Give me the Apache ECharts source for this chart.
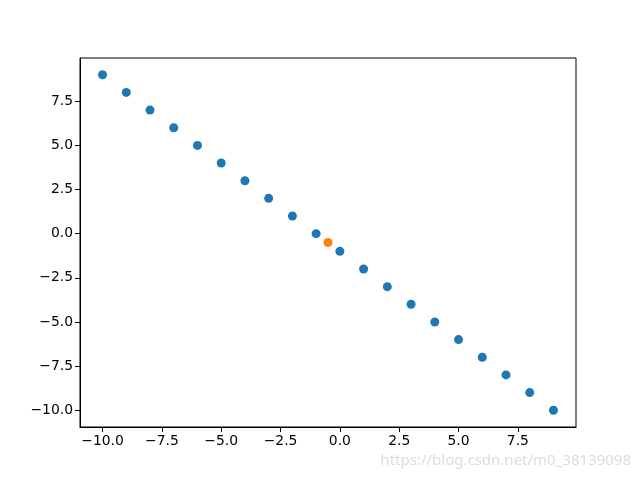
<!DOCTYPE html>
<html><head><meta charset="utf-8">
<script src="https://cdn.jsdelivr.net/npm/echarts@6/dist/echarts.min.js"></script>
<style>html,body{margin:0;padding:0;background:#fff}#c{width:640px;height:480px}</style>
</head><body><div id="c"></div>
<script>
const xs = [-10,-9,-8,-7,-6,-5,-4,-3,-2,-1,0,1,2,3,4,5,6,7,8,9];
const ys = [9,8,7,6,5,4,3,2,1,0,-1,-2,-3,-4,-5,-6,-7,-8,-9,-10];
const extraX = [-0.5];
const extraY = [-0.5];
const xTicks = [-10,-7.5,-5,-2.5,0,2.5,5,7.5];
const yTicks = [-10,-7.5,-5,-2.5,0,2.5,5,7.5];

const fmt = v => (v < 0 ? '\u2212' : '') + Math.abs(v).toFixed(1);
const chart = echarts.init(document.getElementById('c'), null, {renderer:'canvas'});
const axisLine = {show:true, onZero:false, lineStyle:{color:'#000', width:1}};
chart.setOption({
  animation:false,
  backgroundColor:'#fff',
  grid:{left:80, right:64, top:58, bottom:53, show:true, borderColor:'#000', borderWidth:1, containLabel:false},
  xAxis:{type:'value', min:-10.95, max:9.95, axisLine:axisLine, splitLine:{show:false},
    axisTick:{show:true, length:5, lineStyle:{color:'#000'}, customValues:xTicks},
    axisLabel:{color:'#000', fontSize:13.9, fontFamily:'DejaVu Sans', formatter:fmt, margin:7, customValues:xTicks}
  },
  yAxis:{type:'value', min:-10.95, max:9.95, axisLine:axisLine, splitLine:{show:false},
    axisTick:{show:true, length:5, lineStyle:{color:'#000'}, customValues:yTicks},
    axisLabel:{color:'#000', fontSize:13.9, fontFamily:'DejaVu Sans', formatter:fmt, margin:7, customValues:yTicks}
  },
  series:[
    {type:'scatter', data:xs.map((x,i)=>[x,ys[i]]), symbolSize:9, itemStyle:{color:'#1f77b4', opacity:1}},
    {type:'scatter', data:extraX.map((x,i)=>[x,extraY[i]]), symbolSize:9, itemStyle:{color:'#ff7f0e', opacity:1}}
  ],
  graphic:[{type:'text', right:9, top:453, style:{text:'https://blog.csdn.net/m0_38139098', fill:'#dcdcdc', font:'15px "Noto Sans", sans-serif'}}]
});
</script></body></html>
